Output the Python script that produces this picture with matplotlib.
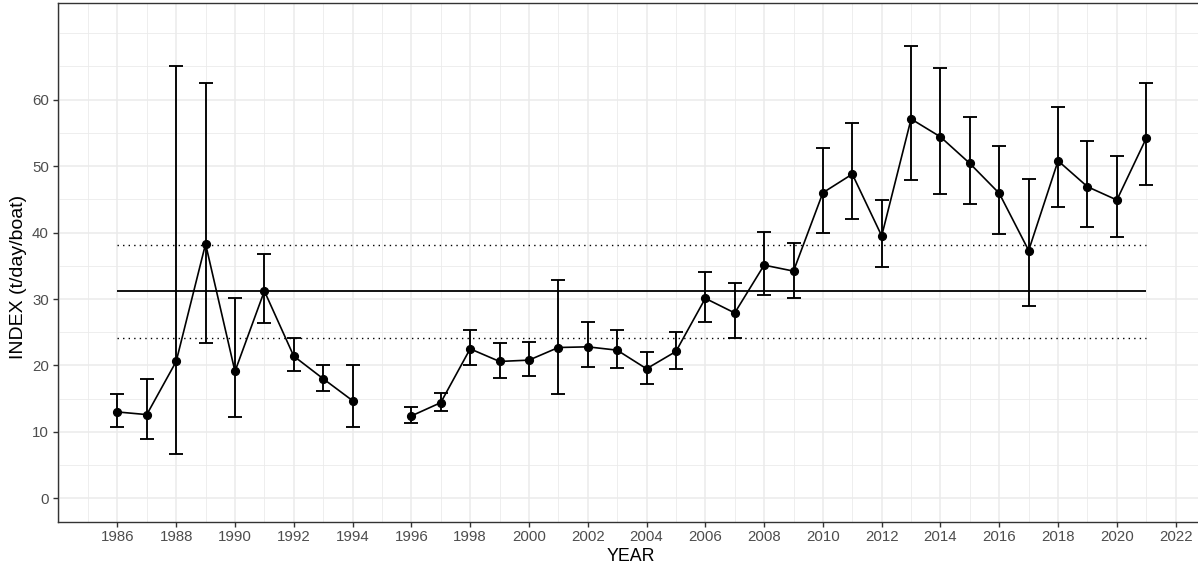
import numpy as np
import matplotlib
matplotlib.use("Agg")
import matplotlib.pyplot as plt

years = list(range(1986, 2022))
index = [13.0, 12.6, 20.6, 38.3, 19.1, 31.2, 21.4, 18.0, 14.7, np.nan,
         12.4, 14.4, 22.5, 20.6, 20.8, 22.7, 22.8, 22.3, 19.5, 22.1,
         30.1, 27.9, 35.1, 34.2, 46.0, 48.8, 39.5, 57.1, 54.4, 50.4,
         45.9, 37.3, 50.8, 46.9, 44.9, 54.2]
upper = [15.7, 17.9, 65.0, 62.5, 30.1, 36.8, 24.1, 20.0, 20.1, np.nan,
         13.7, 15.9, 25.3, 23.4, 23.6, 32.9, 26.5, 25.4, 22.0, 25.1,
         34.1, 32.4, 40.1, 38.5, 52.8, 56.5, 44.9, 68.1, 64.8, 57.4,
         53.0, 48.0, 58.9, 53.8, 51.5, 62.5]
lower = [10.8, 8.9, 6.6, 23.4, 12.2, 26.4, 19.1, 16.2, 10.8, np.nan,
         11.3, 13.1, 20.1, 18.1, 18.4, 15.7, 19.7, 19.6, 17.2, 19.5,
         26.6, 24.1, 30.6, 30.2, 40.0, 42.1, 34.8, 47.9, 45.8, 44.3,
         39.8, 29.0, 43.9, 40.8, 39.3, 47.1]
mean_line = 31.2
upper_line = 38.2
lower_line = 24.2
x_ticks = list(range(1986, 2023, 2))
y_ticks = list(range(0, 61, 10))

plt.rcParams['font.family'] = ['Liberation Sans', 'DejaVu Sans']

W, H = 1198, 569
fig = plt.figure(figsize=(W / 100, H / 100), dpi=100)
left, right, top, bottom = 58.3, 1198.0, 2.7, 521.7
ax = fig.add_axes([left / W, 1 - bottom / H, (right - left) / W, (bottom - top) / H])

yrs = np.array(years, dtype=float)
idx = np.array(index)
up = np.array(upper)
lo = np.array(lower)

# grid
for v in range(0, 71, 5):
    ax.axhline(v, color='#EBEBEB', lw=1.1 if v % 10 == 0 and v <= 60 else 0.6, zorder=0)
for yv in range(1984, 2024):
    ax.axvline(yv, color='#EBEBEB', lw=1.1 if yv % 2 == 0 else 0.6, zorder=0)

ax.hlines(mean_line, 1986, 2021, color='black', lw=1.3, zorder=1)
ax.hlines([upper_line, lower_line], 1986, 2021, color='black', lw=1.0,
          linestyles=[(0, (1, 3))], zorder=1)

mask = ~np.isnan(idx)
ax.errorbar(yrs[mask], idx[mask], yerr=[idx[mask] - lo[mask], up[mask] - idx[mask]],
            fmt='none', ecolor='black', elinewidth=1.35, capsize=5.0, capthick=1.35, zorder=2)
ax.plot(yrs, idx, color='black', lw=1.2, zorder=3)
ax.plot(yrs, idx, 'o', color='black', ms=5.6, zorder=4)

ax.set_xlim(1983.99, 2022.76)
ax.set_ylim(-3.52, 74.6)
ax.set_xticks(x_ticks)
ax.set_yticks(y_ticks)
ax.tick_params(axis='both', colors='#333333', labelcolor='#4D4D4D', labelsize=10.8,
               length=3.3, width=1.0)
ax.tick_params(axis='x', pad=2.5)
ax.tick_params(axis='y', pad=3.5)
for s in ['left', 'bottom', 'top']:
    ax.spines[s].set_color('#333333')
    ax.spines[s].set_linewidth(1.0)
ax.spines['right'].set_visible(False)

ax.set_xlabel('YEAR', fontsize=12.8, va='center')
ax.xaxis.set_label_coords(631.0 / W, 1 - 556.7 / H, transform=fig.transFigure)
ax.set_ylabel('INDEX (t/day/boat)', fontsize=14.0, va='center')
ax.yaxis.set_label_coords(18.3 / W, 1 - 277.0 / H, transform=fig.transFigure)

fig.savefig('out.png', dpi=100)
